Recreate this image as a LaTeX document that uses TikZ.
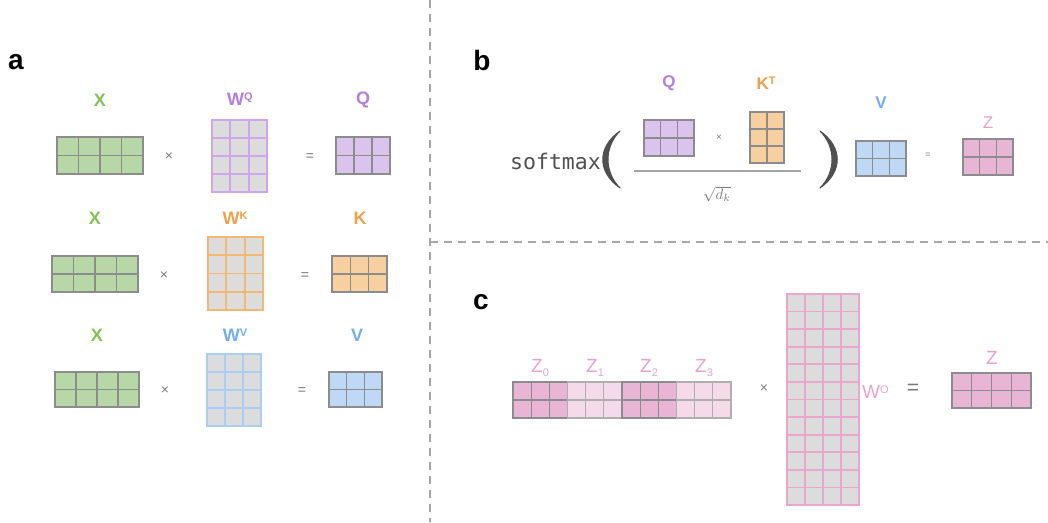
\documentclass[tikz,border=0pt]{standalone}
\usepackage{fontspec}
\setmainfont{Liberation Sans}
\newfontfamily\monofont{DejaVu Sans Mono}
\usetikzlibrary{calc}

\definecolor{cgreen}{HTML}{80C452}
\definecolor{fgreen}{HTML}{B7D8A6}
\definecolor{cpurple}{HTML}{B37FE3}
\definecolor{fpurple}{HTML}{DAC4EE}
\definecolor{lpurple}{HTML}{CDA6EE}
\definecolor{corange}{HTML}{F0A04A}
\definecolor{forange}{HTML}{F6D09E}
\definecolor{lorange}{HTML}{F3B872}
\definecolor{cblue}{HTML}{72AEF3}
\definecolor{fblue}{HTML}{BED8F6}
\definecolor{lblue}{HTML}{ABCDF4}
\definecolor{cpink}{HTML}{E8A2CC}
\definecolor{fpink}{HTML}{E8B5D5}
\definecolor{fpinklt}{HTML}{F5DBEA}
\definecolor{lpink}{HTML}{EBA6CE}
\definecolor{wgray}{HTML}{DCDCDD}
\definecolor{gridgray}{HTML}{8C8C8C}
\definecolor{opgray}{HTML}{7A7A7A}
\definecolor{dashgray}{HTML}{A6A6A6}
\definecolor{textdark}{HTML}{505050}

% superscript / subscript letters of the matrix names
\newcommand\supl[1]{\raisebox{0.55ex}{\fontsize{11}{11}\selectfont #1}}
\newcommand\subl[1]{\raisebox{-0.35ex}{\fontsize{11}{11}\selectfont #1}}

% a grid of cells: name, centre, width, height, columns, rows, fill, line colour, line width
\newcommand\gridmat[9]{%
  \node[mat, fill=#7, draw=#8, line width=#9, minimum width=#3, minimum height=#4] (#1) at (#2) {};
  \pgfmathtruncatemacro\gmc{#5-1}%
  \pgfmathtruncatemacro\gmr{#6-1}%
  \foreach \k in {1,...,\gmc} {\draw[#8, line width=#9]
    ($(#1.north west)!\k/#5!(#1.north east)$) -- ($(#1.south west)!\k/#5!(#1.south east)$);}
  \foreach \k in {1,...,\gmr} {\draw[#8, line width=#9]
    ($(#1.north west)!\k/#6!(#1.south west)$) -- ($(#1.north east)!\k/#6!(#1.south east)$);}
}

\tikzset{
  mat/.style={rectangle, inner sep=0pt, outer sep=0pt},
  lbl/.style={font=\fontsize{18}{18}\selectfont\bfseries, inner sep=0pt},
  lblb/.style={font=\fontsize{17}{17}\selectfont\bfseries, inner sep=0pt},
  lblthin/.style={font=\fontsize{19}{19}\selectfont, inner sep=0pt, text=cpink},
  panel/.style={font=\fontsize{28}{28}\selectfont\bfseries, inner sep=0pt},
  times/.style={font=\fontsize{14}{14}\selectfont, text=opgray, inner sep=0pt},
  eqsmall/.style={font=\fontsize{14}{14}\selectfont, text=opgray, inner sep=0pt},
  paren/.style={fill=textdark, draw=textdark, line width=1pt, line join=round},
  sep/.style={draw=dashgray, line width=1.4pt, dash pattern=on 8pt off 6pt},
}

\begin{document}
\begin{tikzpicture}[x=1pt, y=-1pt]
\useasboundingbox (0,0) rectangle (1048,522);

% ---------- separators ----------
\coordinate (vtop) at (430,0);
\coordinate (vbot) at (430,522);
\coordinate (hleft) at (430,242);
\coordinate (hright) at (1048,242);
\draw[sep] (vtop) -- (vbot);
\draw[sep] (hleft) -- (hright);

% ---------- panel a ----------
\node[panel] (pa) at (16,62) {a};

% row Q
\node[lbl, text=cgreen] (lx1) at (100,100) {X};
\gridmat{x1}{100,155.5}{86pt}{37pt}{4}{2}{fgreen}{gridgray}{1.1pt}
\node[times] (t1) at (169,157) {×};
\node[lbl, text=cpurple] (lwq) at (240,99) {W\supl{Q}};
\gridmat{wq}{239.5,156}{55pt}{72pt}{3}{4}{wgray}{lpurple}{1.8pt}
\node[eqsmall] (e1) at (310,157) {=};
\node[lbl, text=cpurple] (lq) at (363,100) {Q};
\gridmat{q}{363,155.5}{54pt}{37pt}{3}{2}{fpurple}{gridgray}{1.1pt}

% row K
\node[lbl, text=cgreen] (lx2) at (95,218) {X};
\gridmat{x2}{95,274}{86pt}{36pt}{4}{2}{fgreen}{gridgray}{1.1pt}
\node[times] (t2) at (164,276) {×};
\node[lbl, text=corange] (lwk) at (235,218) {W\supl{K}};
\gridmat{wk}{235.5,273.5}{55pt}{73pt}{3}{4}{wgray}{lorange}{1.8pt}
\node[eqsmall] (e2) at (305,276) {=};
\node[lbl, text=corange] (lk) at (360,218) {K};
\gridmat{k}{359.5,274}{55pt}{36pt}{3}{2}{forange}{gridgray}{1.1pt}

% row V
\node[lbl, text=cgreen] (lx3) at (97,335) {X};
\gridmat{x3}{97,389.5}{84pt}{35pt}{4}{2}{fgreen}{gridgray}{1.1pt}
\node[times] (t3) at (165,391) {×};
\node[lbl, text=cblue] (lwv) at (235,335) {W\supl{V}};
\gridmat{wv}{234,390}{54pt}{72pt}{3}{4}{wgray}{lblue}{1.8pt}
\node[eqsmall] (e3) at (302,391) {=};
\node[lbl, text=cblue] (lv) at (357,335) {V};
\gridmat{v}{355.5,389.5}{53pt}{35pt}{3}{2}{fblue}{gridgray}{1.1pt}

% ---------- panel b ----------
\node[panel] (pb) at (482,60) {b};
\node[font=\monofont\fontsize{21.5}{21.5}\selectfont, text=textdark, inner sep=0pt, anchor=base east] (smx) at (601,169) {softmax};
% left bracket, drawn as a tapered crescent
\coordinate (lpt) at (620,131);
\coordinate (lpb) at (620,188);
\path[paren] (lpt) .. controls (597,147) and (597,172) .. (lpb)
             .. controls (604,172) and (604,147) .. (lpt) -- cycle;

\node[lblb, text=cpurple] (lqb) at (669,83) {Q};
\gridmat{qb}{669,138}{50pt}{36pt}{3}{2}{fpurple}{gridgray}{1.1pt}
\node[font=\fontsize{10}{10}\selectfont, text=opgray, inner sep=0pt] (tb) at (719,138) {×};
\node[lblb, text=corange] (lkt) at (766,83) {K\supl{T}};
\gridmat{kt}{767,137.5}{34pt}{51pt}{2}{3}{forange}{gridgray}{1.1pt}
\coordinate (fl) at (634,171);
\coordinate (fr) at (801,171);
\draw[draw=gridgray!80, line width=1.3pt] (fl) -- (fr);
\node[text=opgray, inner sep=0pt, scale=1.5] (sq) at (717,194) {$\sqrt{d_k}$};

% right bracket
\coordinate (rpt) at (820,131);
\coordinate (rpb) at (820,188);
\path[paren] (rpt) .. controls (843,147) and (843,172) .. (rpb)
             .. controls (836,172) and (836,147) .. (rpt) -- cycle;

\node[lblb, text=cblue] (lvb) at (881,103) {V};
\gridmat{vb}{881,158.5}{50pt}{35pt}{3}{2}{fblue}{gridgray}{1.1pt}
\node[font=\fontsize{9}{9}\selectfont, text=opgray, inner sep=0pt] (eb) at (928,155) {=};
\node[font=\fontsize{17}{17}\selectfont, text=cpink, inner sep=0pt] (lzb) at (988,123) {Z};
\gridmat{zb}{988,157}{50pt}{36pt}{3}{2}{fpink}{gridgray}{1.1pt}

% ---------- panel c ----------
\node[panel] (pc) at (481,302) {c};
\gridmat{z0}{540.25,400}{54.5pt}{36pt}{3}{2}{fpink}{gridgray}{1.1pt}
\gridmat{z1}{594.75,400}{54.5pt}{36pt}{3}{2}{fpinklt}{gridgray!70}{1.1pt}
\gridmat{z2}{649.25,400}{54.5pt}{36pt}{3}{2}{fpink}{gridgray}{1.1pt}
\gridmat{z3}{703.75,400}{54.5pt}{36pt}{3}{2}{fpinklt}{gridgray!70}{1.1pt}
\node[lblthin] (lz0) at (540,368) {Z\subl{0}};
\node[lblthin] (lz1) at (595,368) {Z\subl{1}};
\node[lblthin] (lz2) at (649,368) {Z\subl{2}};
\node[lblthin] (lz3) at (704,368) {Z\subl{3}};
\node[times] (tc) at (764,389) {×};
\gridmat{wo}{823,399.5}{72pt}{211pt}{4}{12}{wgray}{lpink}{1.8pt}
\node[lblthin, anchor=west] (lwo) at (862,392) {W\supl{O}};
\node[font=\fontsize{21}{21}\selectfont, text=opgray, inner sep=0pt] (ec) at (913,389) {=};
\node[lblthin] (lzc) at (992,358) {Z};
\gridmat{zc}{991.5,390.5}{79pt}{35pt}{4}{2}{fpink}{gridgray}{1.1pt}
\end{tikzpicture}
\end{document}
